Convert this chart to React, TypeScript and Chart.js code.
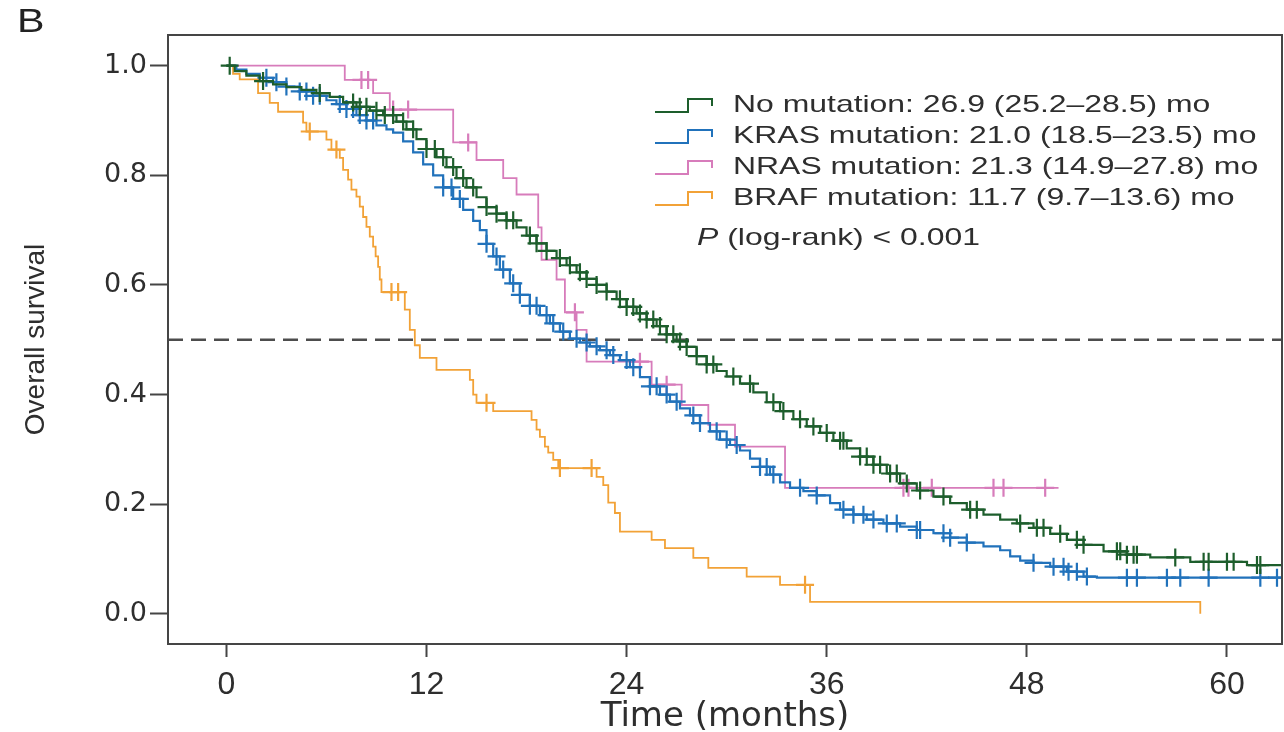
import React, { useEffect, useRef } from 'react';
import { Chart, registerables } from 'chart.js';

Chart.register(...registerables);

// ---------- axes ----------
const xTicks = [0, 12, 24, 36, 48, 60];
const yTicks = [0, 0.2, 0.4, 0.6, 0.8, 1.0];
const xRange = [-3.5, 63.3];
const yRange = [-0.055, 1.056];
const medianLevel = 0.5;
const xTitle = 'Time (months)';
const yTitle = 'Overall survival';
const panelLabel = 'B';
const pValueText = ' (log-rank) < 0.001';

// ---------- series labels / colours ----------
const seriesLabels = [
  'No mutation: 26.9 (25.2–28.5) mo',
  'KRAS mutation: 21.0 (18.5–23.5) mo',
  'NRAS mutation: 21.3 (14.9–27.8) mo',
  'BRAF mutation: 11.7 (9.7–13.6) mo',
];
const seriesColors = ['#1d5e2c', '#2172bb', '#d77cbb', '#f2a237'];

// ---------- Kaplan–Meier steps: [time (months), survival after step] ----------
const noMutationCurve: [number, number][] = [
  [0, 1.0], [0.5, 0.99], [1.2, 0.982], [2.0, 0.972], [2.8, 0.966], [3.6, 0.961], [4.5, 0.956],
  [5.4, 0.95], [6.2, 0.943], [7.0, 0.933], [7.8, 0.925], [8.6, 0.918], [9.4, 0.91], [10.2, 0.898],
  [10.8, 0.884], [11.4, 0.866], [12.0, 0.848], [12.6, 0.833], [13.2, 0.815], [13.8, 0.795],
  [14.4, 0.778], [15.0, 0.76], [15.6, 0.742], [16.2, 0.73], [16.8, 0.718], [17.4, 0.705],
  [18.0, 0.69], [18.6, 0.676], [19.2, 0.662], [19.8, 0.649], [20.4, 0.636], [21.0, 0.623],
  [21.6, 0.611], [22.2, 0.6], [22.8, 0.588], [23.4, 0.574], [24.0, 0.56], [24.6, 0.548],
  [25.2, 0.537], [25.8, 0.525], [26.4, 0.51], [27.0, 0.497], [27.6, 0.487], [28.2, 0.47],
  [28.8, 0.455], [29.4, 0.443], [30.0, 0.433], [30.8, 0.42], [31.6, 0.404], [32.4, 0.386],
  [33.2, 0.37], [34.0, 0.355], [34.8, 0.342], [35.6, 0.33], [36.4, 0.316], [37.2, 0.302],
  [38.0, 0.287], [38.8, 0.272], [39.6, 0.256], [40.4, 0.238], [41.4, 0.225], [42.4, 0.214],
  [43.4, 0.202], [44.4, 0.19], [45.4, 0.181], [46.4, 0.172], [47.4, 0.165], [48.4, 0.157],
  [49.4, 0.146], [50.4, 0.135], [51.4, 0.126], [52.6, 0.114], [54.0, 0.108], [55.4, 0.103],
  [57.8, 0.095], [61.2, 0.089], [63.3, 0.089],
];
const krasCurve: [number, number][] = [
  [0, 1.0], [0.6, 0.993], [1.2, 0.985], [2.0, 0.978], [2.8, 0.97], [3.6, 0.962], [4.4, 0.953],
  [5.2, 0.945], [6.0, 0.937], [6.6, 0.93], [7.2, 0.921], [7.8, 0.91], [8.4, 0.9], [9.0, 0.891],
  [9.6, 0.884], [10.0, 0.878], [10.6, 0.862], [11.2, 0.842], [11.8, 0.82], [12.4, 0.8],
  [13.0, 0.778], [13.6, 0.757], [14.2, 0.737], [14.8, 0.717], [15.2, 0.7], [15.6, 0.675],
  [16.0, 0.652], [16.4, 0.628], [17.0, 0.603], [17.6, 0.582], [18.2, 0.562], [18.8, 0.545],
  [19.4, 0.53], [20.0, 0.515], [20.6, 0.502], [21.2, 0.495], [21.8, 0.488], [22.4, 0.481],
  [23.0, 0.472], [23.6, 0.463], [24.2, 0.45], [24.8, 0.432], [25.4, 0.415], [26.0, 0.4],
  [26.6, 0.387], [27.2, 0.375], [27.8, 0.362], [28.4, 0.348], [29.0, 0.333], [29.6, 0.318],
  [30.2, 0.308], [30.8, 0.298], [31.4, 0.283], [32.0, 0.268], [32.6, 0.254], [33.2, 0.24],
  [33.8, 0.23], [34.6, 0.224], [35.4, 0.216], [36.2, 0.202], [36.8, 0.19], [37.6, 0.181],
  [38.4, 0.172], [39.4, 0.165], [40.4, 0.159], [41.4, 0.153], [42.4, 0.147], [43.4, 0.139],
  [44.4, 0.13], [45.4, 0.123], [46.4, 0.116], [47.0, 0.105], [47.6, 0.097], [48.4, 0.093],
  [49.4, 0.086], [50.4, 0.077], [51.4, 0.068], [52.2, 0.066], [63.3, 0.066],
];
const nrasCurve: [number, number][] = [
  [0, 1.0], [7.1, 0.974], [8.8, 0.95], [9.8, 0.92], [13.6, 0.86], [15.0, 0.828], [16.6, 0.795],
  [17.4, 0.765], [18.7, 0.705], [18.9, 0.646], [19.8, 0.61], [20.3, 0.55], [21.0, 0.518],
  [21.6, 0.46], [25.5, 0.418], [27.3, 0.381], [28.9, 0.345], [30.5, 0.305], [33.5, 0.23],
  [49.9, 0.23],
];
const brafCurve: [number, number][] = [
  [0, 1.0], [0.4, 0.985], [0.8, 0.975], [1.9, 0.95], [2.6, 0.932], [3.1, 0.916], [4.6, 0.896],
  [4.8, 0.88], [6.0, 0.865], [6.3, 0.847], [6.8, 0.832], [7.0, 0.81], [7.3, 0.792], [7.5, 0.774],
  [7.8, 0.761], [8.0, 0.743], [8.2, 0.724], [8.4, 0.706], [8.6, 0.688], [8.8, 0.67], [8.95, 0.652],
  [9.1, 0.633], [9.2, 0.61], [9.3, 0.587], [10.7, 0.555], [11.0, 0.518], [11.3, 0.49],
  [11.6, 0.467], [12.6, 0.445], [14.6, 0.427], [14.8, 0.4], [15.0, 0.385], [16.0, 0.37],
  [18.3, 0.354], [18.6, 0.336], [18.8, 0.323], [19.1, 0.305], [19.3, 0.294], [19.6, 0.281],
  [19.9, 0.266], [22.2, 0.25], [22.6, 0.235], [22.9, 0.203], [23.3, 0.184], [23.6, 0.15],
  [25.5, 0.135], [26.3, 0.12], [28.0, 0.102], [28.9, 0.084], [31.2, 0.068], [33.2, 0.053],
  [35.0, 0.022], [58.4, 0.0],
];

// ---------- censoring times (months) ----------
const noMutationCensored = [
  0.2, 2.2, 5.6, 7.6, 8.0, 8.4, 9.0, 9.5, 10.0, 10.6, 11.2, 12.0, 12.5, 13.0, 13.6, 14.2, 14.8,
  15.6, 16.2, 16.8, 17.2, 18.2, 18.6, 19.2, 20.0, 20.6, 21.2, 21.6, 22.2, 22.8, 23.6, 24.0, 24.4,
  24.8, 25.2, 25.6, 26.0, 26.4, 26.8, 27.2, 27.6, 28.2, 28.8, 29.2, 30.4, 31.4, 32.8, 33.4, 34.4,
  35.2, 36.0, 36.8, 37.0, 38.0, 38.4, 38.8, 39.2, 39.8, 40.2, 40.8, 41.6, 43.0, 44.6, 45.0, 47.6,
  48.6, 49.0, 50.0, 51.0, 51.4, 53.4, 53.6, 54.0, 54.4, 54.6, 56.9, 58.6, 58.9, 60.0, 60.4, 61.8,
  62.0,
];
const krasCensored = [
  2.4, 3.0, 3.6, 4.4, 4.8, 5.2, 5.6, 6.8, 7.2, 7.6, 8.0, 8.4, 8.8, 13.0, 13.5, 14.0, 15.6, 16.2,
  16.6, 17.2, 17.6, 18.2, 18.6, 19.2, 19.6, 20.2, 21.0, 21.6, 22.2, 22.8, 23.2, 24.0, 24.4, 25.4,
  25.8, 26.4, 27.0, 28.0, 28.4, 29.4, 30.0, 30.6, 32.0, 32.4, 32.8, 34.4, 35.4, 37.0, 37.6, 38.2,
  38.8, 39.6, 40.2, 41.4, 41.6, 43.0, 43.4, 44.4, 48.4, 49.6, 50.2, 50.5, 51.0, 51.6, 54.0, 54.6,
  56.4, 57.2, 58.9, 62.0, 63.0,
];
const nrasCensored = [8.1, 8.5, 10.0, 10.9, 14.5, 20.9, 24.8, 26.4, 40.6, 40.9, 42.3, 46.0, 46.6, 49.1];
const brafCensored = [5.0, 6.6, 9.9, 10.3, 15.6, 20.0, 21.9, 34.7];

const curves = [noMutationCurve, krasCurve, nrasCurve, brafCurve];
const censored = [noMutationCensored, krasCensored, nrasCensored, brafCensored];
const lineWidths = [2.2, 2.2, 1.8, 1.8];

function survivalAt(curve: [number, number][], t: number) {
  let s = curve[0][1];
  for (const [ti, si] of curve) {
    if (ti <= t) s = si;
    else break;
  }
  return s;
}

const TEXT = '#2e2e2e';
const AXIS = '#454545';

function drawStretched(ctx: CanvasRenderingContext2D, text: string, x: number, y: number, sx: number) {
  ctx.save();
  ctx.translate(x, y);
  ctx.scale(sx, 1);
  ctx.fillText(text, 0, 0);
  ctx.restore();
}

const framePlugin = {
  id: 'kmFrame',
  afterDatasetsDraw(chart: any) {
    const { ctx, chartArea } = chart;
    ctx.save();
    ctx.strokeStyle = AXIS;
    ctx.lineWidth = 2;
    ctx.strokeRect(chartArea.left, chartArea.top, chartArea.right - chartArea.left, chartArea.bottom - chartArea.top);
    ctx.restore();
  },
};

const legendPlugin = {
  id: 'kmLegend',
  afterDraw(chart: any) {
    const ctx: CanvasRenderingContext2D = chart.ctx;
    const items = chart.data.datasets
      .filter((d: any) => d.kmLegend)
      .sort((a: any, b: any) => a.legendOrder - b.legendOrder);
    const iconX = 655;
    const textX = 733;
    const rowY0 = 105;
    const gap = 31;
    const sx = 1.33;
    ctx.save();
    ctx.font = "24px 'Liberation Sans', Arial, sans-serif";
    ctx.textBaseline = 'middle';
    ctx.textAlign = 'left';
    items.forEach((ds: any, i: number) => {
      const y = rowY0 + i * gap;
      ctx.strokeStyle = ds.borderColor;
      ctx.lineWidth = 2;
      ctx.beginPath();
      ctx.moveTo(iconX, y + 7);
      ctx.lineTo(iconX + 33, y + 7);
      ctx.lineTo(iconX + 33, y - 6);
      ctx.lineTo(iconX + 57, y - 6);
      ctx.lineTo(iconX + 57, y + 1);
      ctx.stroke();
      ctx.fillStyle = TEXT;
      drawStretched(ctx, ds.label, textX, y, sx);
    });
    // p value line
    const py = rowY0 + items.length * gap + 9;
    ctx.font = "italic 24px 'Liberation Sans', Arial, sans-serif";
    ctx.fillStyle = TEXT;
    drawStretched(ctx, 'P', 697, py, sx);
    const pw = ctx.measureText('P').width * sx;
    ctx.font = "24px 'Liberation Sans', Arial, sans-serif";
    drawStretched(ctx, pValueText, 697 + pw, py, sx);
    // panel label
    ctx.font = "33px 'Liberation Sans', Arial, sans-serif";
    ctx.textBaseline = 'alphabetic';
    ctx.fillStyle = '#222';
    drawStretched(ctx, panelLabel, 17, 32, 1.25);
    ctx.restore();
  },
};

export default function App() {
  const canvasRef = useRef<HTMLCanvasElement | null>(null);

  useEffect(() => {
    document.body.style.margin = '0';
    const canvas = canvasRef.current;
    if (!canvas) return;

    const datasets: any[] = [];
    curves.forEach((curve, i) => {
      datasets.push({
        type: 'line',
        label: seriesLabels[i] + ' censored',
        data: censored[i].map((t) => ({ x: t, y: survivalAt(curve, t) })),
        showLine: false,
        pointStyle: 'cross',
        pointRadius: 9,
        pointBorderWidth: 2.2,
        borderColor: seriesColors[i],
        backgroundColor: seriesColors[i],
      });
      datasets.push({
        type: 'line',
        label: seriesLabels[i],
        kmLegend: true,
        legendOrder: i,
        data: curve.map(([t, s]) => ({ x: t, y: s })),
        stepped: 'before',
        borderColor: seriesColors[i],
        backgroundColor: seriesColors[i],
        borderWidth: lineWidths[i],
        pointRadius: 0,
        fill: false,
      });
    });
    datasets.push({
      type: 'line',
      label: 'median',
      data: [
        { x: xRange[0], y: medianLevel },
        { x: xRange[1], y: medianLevel },
      ],
      borderColor: '#4d4d4d',
      borderWidth: 2.5,
      borderDash: [15, 8],
      pointRadius: 0,
      fill: false,
    });

    const chart = new Chart(canvas, {
      type: 'line',
      data: { datasets },
      options: {
        animation: false,
        responsive: false,
        layout: { autoPadding: false, padding: { top: 35, right: 2, left: 0, bottom: 0 } },
        plugins: {
          legend: { display: false },
          tooltip: { enabled: false },
        },
        scales: {
          x: {
            type: 'linear',
            min: xRange[0],
            max: xRange[1],
            afterBuildTicks: (scale: any) => {
              scale.ticks = xTicks.map((v) => ({ value: v }));
            },
            afterFit: (scale: any) => {
              scale.height = 88;
              scale.paddingLeft = 0;
              scale.paddingRight = 0;
            },
            border: { display: false },
            grid: {
              drawOnChartArea: false,
              drawTicks: true,
              tickLength: 13,
              tickColor: AXIS,
              tickWidth: 2,
            },
            ticks: {
              autoSkip: false,
              maxRotation: 0,
              padding: 9,
              color: TEXT,
              font: { family: "'Liberation Sans', Arial, sans-serif", size: 32 },
              callback: (v: any) => String(v),
            },
            title: {
              display: true,
              text: xTitle,
              color: TEXT,
              padding: { top: 0, bottom: 0 },
              font: { family: "'DejaVu Sans', sans-serif", size: 34, lineHeight: 0.9 },
            },
          },
          y: {
            type: 'linear',
            min: yRange[0],
            max: yRange[1],
            afterBuildTicks: (scale: any) => {
              scale.ticks = yTicks.map((v) => ({ value: v }));
            },
            afterFit: (scale: any) => {
              scale.width = 168;
              scale.paddingTop = 0;
              scale.paddingBottom = 0;
            },
            border: { display: false },
            grid: {
              drawOnChartArea: false,
              drawTicks: true,
              tickLength: 18,
              tickColor: AXIS,
              tickWidth: 2,
            },
            ticks: {
              autoSkip: false,
              padding: 3,
              color: TEXT,
              font: { family: "'DejaVu Sans', sans-serif", size: 27 },
              callback: (v: any) => Number(v).toFixed(1),
            },
            title: {
              display: true,
              text: yTitle,
              color: TEXT,
              padding: { top: 19, bottom: 0 },
              font: { family: "'Liberation Sans', Arial, sans-serif", size: 28 },
            },
          },
        },
      },
      plugins: [framePlugin, legendPlugin],
    } as any);

    return () => chart.destroy();
  }, []);

  return (
    <div style={{ width: 1284, height: 732, overflow: 'hidden', background: '#fff' }}>
      <canvas ref={canvasRef} width={1284} height={732} />
    </div>
  );
}
